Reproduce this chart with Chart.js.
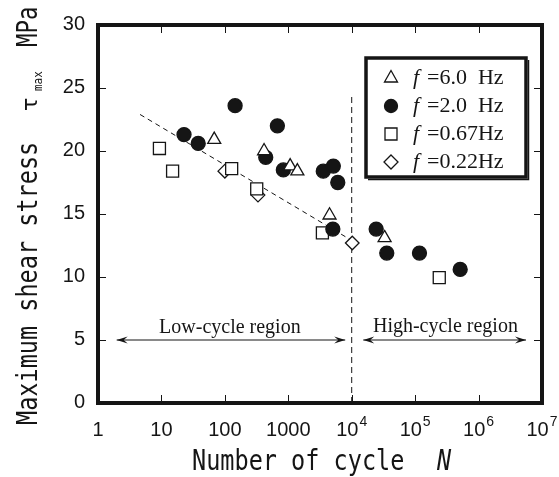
<!DOCTYPE html>
<html>
<head>
<meta charset="utf-8">
<script src="https://cdn.jsdelivr.net/npm/chart.js@4.4.0/dist/chart.umd.min.js"></script>
<style>
  html, body { margin: 0; padding: 0; background: #fff; }
  canvas { display: block; }
</style>
</head>
<body>
<canvas id="snChart" width="559" height="477"></canvas>
<script>
// number of cycles N and max shear stress (MPa)
const n6Hz = [68, 415, 1070, 1390, 4470, 33000];
const t6Hz = [20.9, 20.0, 18.8, 18.4, 14.9, 13.1];

const n2Hz = [22.7, 38, 145, 441, 673, 836, 3560, 5130, 6030, 5040, 24300, 35700, 117000, 513000];
const t2Hz = [21.3, 20.6, 23.6, 19.5, 22.0, 18.5, 18.4, 18.8, 17.5, 13.8, 13.8, 11.9, 11.9, 10.6];

const n067Hz = [9.3, 15, 128, 318, 3450, 240000];
const t067Hz = [20.2, 18.4, 18.6, 17.0, 13.5, 9.95];

const n022Hz = [100, 333, 10200];
const t022Hz = [18.4, 16.5, 12.7];

// dashed trend line for the low-cycle data
const fitN = [4.6, 10000];
const fitT = [22.9, 12.9];

// boundary between the two regions
const boundaryN = [10000, 10000];
const boundaryT = [0, 24.3];

// region arrows
const lowArrowN = [1.97, 7900];
const highArrowN = [15200, 5600000];
const arrowT = [5, 5];

const xTickValues = [1, 10, 100, 1000, 1e4, 1e5, 1e6, 1e7];
const xTickLabels = ['1', '10', '100', '1000', '10^4', '10^5', '10^6', '10^7'];
const yTickValues = [0, 5, 10, 15, 20, 25, 30];

const legendItems = [
    { style: 'triangle', value: '=6.0  Hz' },
    { style: 'circle', value: '=2.0  Hz' },
    { style: 'rect', value: '=0.67Hz' },
    { style: 'rectRot', value: '=0.22Hz' },
];

const ink = '#151515';

function pts(ns, ts) {
    return ns.map((n, i) => ({ x: n, y: ts[i] }));
}

function marker(label, ns, ts, style, radius, fill) {
    return {
        label: label,
        data: pts(ns, ts),
        pointStyle: style,
        pointRadius: radius,
        pointBorderWidth: 1.3,
        pointBorderColor: ink,
        pointBackgroundColor: fill,
        showLine: false,
    };
}

function guide(ns, ts, dash) {
    return {
        data: pts(ns, ts),
        showLine: true,
        borderColor: ink,
        borderWidth: 1,
        borderDash: dash,
        pointRadius: 0,
    };
}

// small glyphs for the legend box
function drawGlyph(ctx, style, x, y) {
    ctx.save();
    ctx.lineWidth = 1.3;
    ctx.strokeStyle = ink;
    ctx.fillStyle = '#fff';
    ctx.beginPath();
    if (style === 'triangle') {
        ctx.moveTo(x, y - 7.5);
        ctx.lineTo(x + 6.5, y + 4);
        ctx.lineTo(x - 6.5, y + 4);
        ctx.closePath();
    } else if (style === 'circle') {
        ctx.arc(x, y, 6.5, 0, Math.PI * 2);
        ctx.fillStyle = ink;
    } else if (style === 'rect') {
        ctx.rect(x - 6, y - 6, 12, 12);
    } else {
        ctx.moveTo(x, y - 7);
        ctx.lineTo(x + 7, y);
        ctx.lineTo(x, y + 7);
        ctx.lineTo(x - 7, y);
        ctx.closePath();
    }
    ctx.fill();
    ctx.stroke();
    ctx.restore();
}

function arrowHead(ctx, x, y, dir) {
    ctx.beginPath();
    ctx.moveTo(x, y);
    ctx.lineTo(x - dir * 11, y - 3.5);
    ctx.lineTo(x - dir * 7, y);
    ctx.lineTo(x - dir * 11, y + 3.5);
    ctx.closePath();
    ctx.fill();
}

// narrow monospaced text, like the gothic face of the original
function monoText(ctx, text, x, y, font, sx) {
    ctx.save();
    ctx.font = font;
    ctx.translate(x, y);
    ctx.scale(sx, 1);
    ctx.fillText(text, 0, 0);
    const w = ctx.measureText(text).width * sx;
    ctx.restore();
    return w;
}

const decorations = {
    id: 'decorations',
    afterDatasetsDraw(chart) {
        const { ctx, chartArea: a, scales: { x, y } } = chart;
        ctx.save();
        ctx.fillStyle = ink;
        ctx.strokeStyle = ink;

        // arrow heads
        const ay = y.getPixelForValue(arrowT[0]);
        arrowHead(ctx, x.getPixelForValue(lowArrowN[0]), ay, -1);
        arrowHead(ctx, x.getPixelForValue(lowArrowN[1]), ay, 1);
        arrowHead(ctx, x.getPixelForValue(highArrowN[0]), ay, -1);
        arrowHead(ctx, x.getPixelForValue(highArrowN[1]), ay, 1);

        // region labels
        ctx.font = '20px "Liberation Serif"';
        ctx.textAlign = 'center';
        ctx.textBaseline = 'middle';
        ctx.fillText('Low-cycle region', x.getPixelForValue(120), y.getPixelForValue(6.0));
        ctx.fillText('High-cycle region', x.getPixelForValue(300000), y.getPixelForValue(6.05));

        // inward ticks on all four sides
        ctx.lineWidth = 1;
        ctx.beginPath();
        xTickValues.slice(1, -1).forEach(v => {
            const px = Math.round(x.getPixelForValue(v)) + 0.5;
            ctx.moveTo(px, a.bottom);
            ctx.lineTo(px, a.bottom - 8);
            ctx.moveTo(px, a.top);
            ctx.lineTo(px, a.top + 8);
        });
        yTickValues.slice(1, -1).forEach(v => {
            const py = Math.round(y.getPixelForValue(v)) + 0.5;
            ctx.moveTo(a.left, py);
            ctx.lineTo(a.left + 8, py);
            ctx.moveTo(a.right, py);
            ctx.lineTo(a.right - 8, py);
        });
        ctx.stroke();

        // frame
        ctx.lineWidth = 4;
        ctx.strokeRect(a.left, a.top, a.right - a.left, a.bottom - a.top);

        // y tick labels
        ctx.font = '20px "Liberation Sans"';
        ctx.textAlign = 'right';
        ctx.textBaseline = 'middle';
        yTickValues.forEach(v => {
            ctx.fillText(String(v), a.left - 13, y.getPixelForValue(v) - 1);
        });

        // x tick labels, with powers of ten as superscripts
        ctx.textBaseline = 'alphabetic';
        xTickValues.forEach((v, i) => {
            const px = x.getPixelForValue(v);
            const parts = xTickLabels[i].split('^');
            ctx.font = '20px "Liberation Sans"';
            const wb = ctx.measureText(parts[0]).width;
            let ws = 0;
            if (parts[1]) {
                ctx.font = '14px "Liberation Sans"';
                ws = ctx.measureText(parts[1]).width + 1;
            }
            const x0 = px - (wb + ws) / 2;
            ctx.textAlign = 'left';
            ctx.font = '20px "Liberation Sans"';
            ctx.fillText(parts[0], x0, 436);
            if (parts[1]) {
                ctx.font = '14px "Liberation Sans"';
                ctx.fillText(parts[1], x0 + wb + 1, 426);
            }
        });

        // x axis title
        const mono = '28px "DejaVu Sans Mono"';
        const sx = 0.84;
        ctx.textAlign = 'left';
        monoText(ctx, 'Number of cycle', 192, 470, mono, sx);
        monoText(ctx, 'N', 437, 470, 'oblique 28px "DejaVu Sans Mono"', sx);

        // y axis title, written bottom to top
        ctx.save();
        ctx.translate(37, 425);
        ctx.rotate(-Math.PI / 2);
        monoText(ctx, 'Maximum shear stress', 0, 0, mono, sx);
        ctx.font = '22px "DejaVu Sans"';
        ctx.fillText('\u03C4', 314, 0);
        monoText(ctx, 'max', 334, 5, '13px "DejaVu Sans Mono"', sx);
        monoText(ctx, 'MPa', 378, 0, mono, 0.8);
        ctx.restore();

        // legend box
        const lx = 366, ly = 58, lw = 160, lh = 119;
        ctx.fillStyle = '#fff';
        ctx.fillRect(lx, ly, lw, lh);
        ctx.fillStyle = ink;
        ctx.lineWidth = 3.5;
        ctx.strokeRect(lx, ly, lw, lh);
        ctx.lineWidth = 1.5;
        ctx.beginPath();
        ctx.moveTo(lx + lw + 2.5, ly + 2);
        ctx.lineTo(lx + lw + 2.5, ly + lh + 2.5);
        ctx.lineTo(lx + 2, ly + lh + 2.5);
        ctx.stroke();

        ctx.textBaseline = 'middle';
        legendItems.forEach((item, i) => {
            const ry = 78 + i * 28;
            drawGlyph(ctx, item.style, 391, ry);
            ctx.fillStyle = ink;
            ctx.textAlign = 'left';
            ctx.font = 'italic 22px "Liberation Serif"';
            ctx.fillText('f', 413, ry);
            ctx.font = '22px "Liberation Serif"';
            ctx.fillText(item.value, 427, ry);
        });

        ctx.restore();
    }
};

const ctx = document.getElementById('snChart').getContext('2d');
const snChart = new Chart(ctx, {
    type: 'scatter',
    data: {
        datasets: [
            marker('f=6.0 Hz', n6Hz, t6Hz, 'triangle', 7.5, '#fff'),
            marker('f=2.0 Hz', n2Hz, t2Hz, 'circle', 7, ink),
            marker('f=0.67Hz', n067Hz, t067Hz, 'rect', 8.5, '#fff'),
            marker('f=0.22Hz', n022Hz, t022Hz, 'rectRot', 6.8, '#fff'),
            guide(fitN, fitT, [5, 4]),
            guide(boundaryN, boundaryT, [6, 4]),
            guide(lowArrowN, arrowT, []),
            guide(highArrowN, arrowT, []),
        ],
    },
    options: {
        responsive: false,
        animation: false,
        layout: {
            padding: { left: 98, right: 17, top: 25, bottom: 74 },
        },
        plugins: {
            legend: { display: false },
            tooltip: { enabled: false },
        },
        scales: {
            x: {
                type: 'logarithmic',
                min: 1,
                max: 1e7,
                display: false,
            },
            y: {
                type: 'linear',
                min: 0,
                max: 30,
                display: false,
            },
        },
    },
    plugins: [decorations],
});
</script>
</body>
</html>
